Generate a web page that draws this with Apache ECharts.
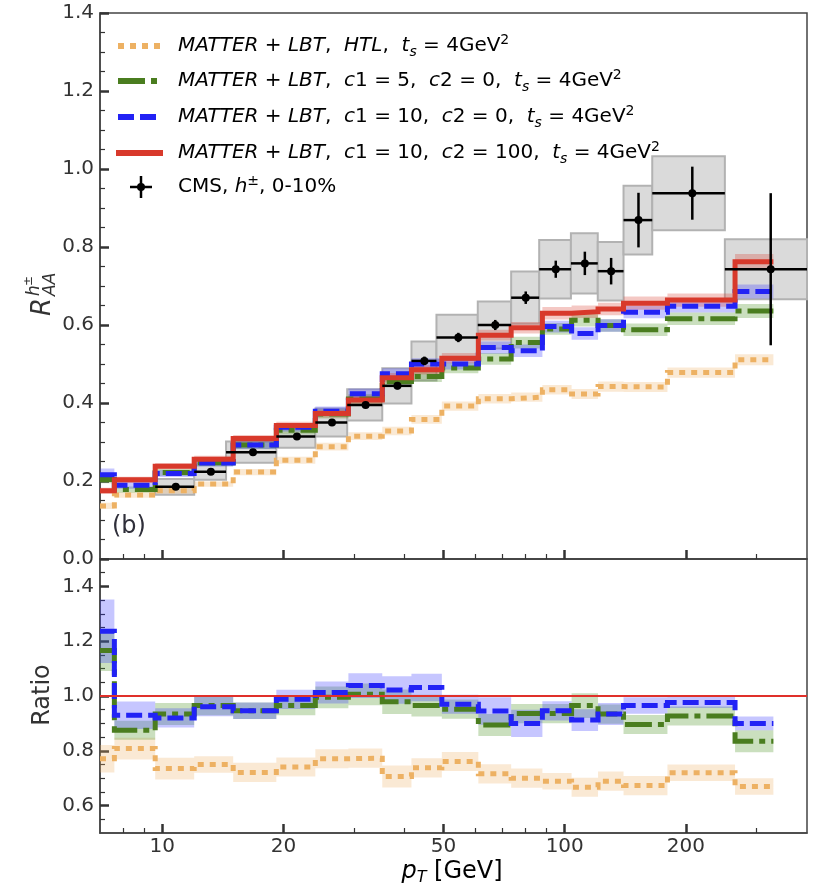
<!DOCTYPE html>
<html><head><meta charset="utf-8">
<script src="https://cdn.jsdelivr.net/npm/echarts@6/dist/echarts.min.js"></script>
<style>html,body{margin:0;padding:0;background:#fff}#c{width:820px;height:890px}</style>
</head><body><div id="c"></div>
<script>
// ---------- data ----------
const modelEdges = [7, 7.6, 9.6, 12, 15, 19.2, 24, 29, 35.2, 41.6, 49.5, 61, 73.6, 88, 104, 121, 140, 180, 265, 330];

const raaRed    = [0.175, 0.203, 0.238, 0.256, 0.309, 0.342, 0.373, 0.408, 0.465, 0.485, 0.515, 0.574, 0.593, 0.630, 0.634, 0.641, 0.656, 0.664, 0.762];
const raaRedErr = [0.008, 0.008, 0.008, 0.009, 0.009, 0.010, 0.010, 0.011, 0.012, 0.012, 0.013, 0.014, 0.015, 0.016, 0.016, 0.016, 0.017, 0.017, 0.020];
const raaBlue    = [0.216, 0.189, 0.219, 0.246, 0.292, 0.338, 0.379, 0.424, 0.475, 0.500, 0.500, 0.542, 0.534, 0.596, 0.578, 0.599, 0.633, 0.648, 0.686];
const raaBlueErr = [0.016, 0.009, 0.009, 0.009, 0.010, 0.011, 0.012, 0.013, 0.014, 0.015, 0.014, 0.016, 0.016, 0.015, 0.016, 0.016, 0.016, 0.016, 0.018];
const raaGreen    = [0.204, 0.178, 0.222, 0.247, 0.292, 0.330, 0.372, 0.410, 0.455, 0.468, 0.490, 0.513, 0.555, 0.590, 0.612, 0.599, 0.588, 0.616, 0.636];
const raaGreenErr = [0.010, 0.008, 0.009, 0.009, 0.010, 0.011, 0.012, 0.013, 0.014, 0.014, 0.014, 0.015, 0.015, 0.015, 0.016, 0.016, 0.016, 0.016, 0.018];
const raaOrange    = [0.136, 0.164, 0.175, 0.192, 0.223, 0.253, 0.288, 0.315, 0.328, 0.358, 0.392, 0.411, 0.415, 0.434, 0.423, 0.442, 0.441, 0.478, 0.511];
const raaOrangeErr = [0.008, 0.007, 0.007, 0.007, 0.008, 0.009, 0.010, 0.010, 0.011, 0.011, 0.012, 0.012, 0.012, 0.012, 0.013, 0.013, 0.013, 0.013, 0.014];

const ratioBlue    = [1.236, 0.930, 0.920, 0.961, 0.946, 0.988, 1.013, 1.038, 1.022, 1.031, 0.970, 0.945, 0.900, 0.946, 0.912, 0.934, 0.965, 0.976, 0.900];
const ratioBlueErr = [0.116, 0.050, 0.035, 0.035, 0.030, 0.035, 0.040, 0.045, 0.050, 0.050, 0.035, 0.050, 0.050, 0.035, 0.040, 0.040, 0.030, 0.020, 0.025];
const ratioGreen    = [1.166, 0.875, 0.934, 0.965, 0.946, 0.965, 0.995, 1.006, 0.979, 0.965, 0.952, 0.894, 0.936, 0.936, 0.965, 0.934, 0.896, 0.927, 0.835];
const ratioGreenErr = [0.075, 0.035, 0.040, 0.035, 0.030, 0.035, 0.040, 0.040, 0.045, 0.040, 0.035, 0.040, 0.035, 0.035, 0.045, 0.035, 0.035, 0.035, 0.040];
const ratioOrange    = [0.771, 0.808, 0.735, 0.750, 0.721, 0.741, 0.771, 0.773, 0.706, 0.738, 0.761, 0.716, 0.700, 0.689, 0.667, 0.689, 0.673, 0.720, 0.670];
const ratioOrangeErr = [0.050, 0.040, 0.040, 0.030, 0.035, 0.035, 0.035, 0.035, 0.040, 0.035, 0.035, 0.035, 0.035, 0.030, 0.035, 0.035, 0.035, 0.030, 0.030];

const cmsLo  = [9.6, 12, 14.4, 19.2, 24, 28.8, 35.2, 41.6, 48, 60.8, 73.6, 86.4, 103.6, 120.8, 140, 165, 250];
const cmsHi  = [12, 14.4, 19.2, 24, 28.8, 35.2, 41.6, 48, 60.8, 73.6, 86.4, 103.6, 120.8, 140, 165, 250, 400];
const cmsPt  = [10.8, 13.2, 16.8, 21.6, 26.4, 32, 38.4, 44.8, 54.4, 67.2, 80, 95, 112.2, 130.4, 152.5, 207.5, 325];
const cmsRaa = [0.185, 0.224, 0.274, 0.314, 0.350, 0.395, 0.444, 0.508, 0.568, 0.600, 0.670, 0.743, 0.758, 0.738, 0.869, 0.938, 0.743];
const cmsStat= [0.004, 0.005, 0.005, 0.006, 0.007, 0.008, 0.009, 0.011, 0.012, 0.013, 0.016, 0.022, 0.030, 0.034, 0.070, 0.068, 0.195];
const cmsSys = [0.020, 0.021, 0.027, 0.029, 0.036, 0.040, 0.045, 0.050, 0.058, 0.060, 0.067, 0.075, 0.077, 0.075, 0.088, 0.095, 0.077];

const xMajorTicks = [10, 20, 50, 100, 200];
const xMinorTicks = [8, 9, 30, 40, 60, 70, 80, 90, 300];
const ratioMajorTicks = [0.6, 0.8, 1.0, 1.2, 1.4];
const ratioMinorTicks = [0.55, 0.65, 0.7, 0.75, 0.85, 0.9, 0.95, 1.05, 1.1, 1.15, 1.25, 1.3, 1.35, 1.45];

// ---------- styles ----------
const C_OR = '#EDB163', C_GR = '#4A7D1F', C_BL = '#2222F5', C_RD = '#D8392B';
const B_OR = 'rgba(237,177,99,0.28)', B_GR = 'rgba(80,150,40,0.30)', B_BL = 'rgba(50,50,255,0.28)', B_RD = 'rgba(216,57,43,0.28)';
const D_OR = [6, 6], D_GR = [27, 6, 6, 6], D_BL = [16, 6];
const TXT = '#333';
const FF = 'DejaVu Sans';
const L = Math.log10;
const XMIN = L(7), XMAX = L(400);

function stepData(vals) {
  const d = vals.map((v, i) => [L(modelEdges[i]), v]);
  d.push([L(modelEdges[modelEdges.length - 1]), vals[vals.length - 1]]);
  return d;
}
function band(vals, errs, fill, xi, yi) {
  return {
    type: 'custom', xAxisIndex: xi, yAxisIndex: yi, z: 2, silent: true, animation: false,
    data: [[L(modelEdges[0]), vals[0]]],
    renderItem: (params, api) => {
      const up = [], lo = [];
      vals.forEach((v, i) => {
        const a = L(modelEdges[i]), b = L(modelEdges[i + 1]);
        up.push(api.coord([a, v + errs[i]]), api.coord([b, v + errs[i]]));
        lo.push(api.coord([a, v - errs[i]]), api.coord([b, v - errs[i]]));
      });
      return { type: 'polygon', shape: { points: up.concat(lo.reverse()) }, style: { fill: fill } };
    }
  };
}
function stepLine(vals, color, dash, xi, yi, z) {
  return {
    type: 'line', xAxisIndex: xi, yAxisIndex: yi, step: 'end', data: stepData(vals),
    symbol: 'none', showSymbol: false, silent: true, animation: false, z: z,
    lineStyle: { color: color, width: 5, type: dash || 'solid', cap: 'butt', join: 'miter' }
  };
}

function xAxes(gi, showLabels) {
  return [{
    type: 'value', gridIndex: gi, position: 'bottom', min: XMIN, max: XMAX,
    axisLine: { show: true, lineStyle: { color: '#444', width: 1.5 } },
    axisTick: { show: true, inside: true, length: 9, customValues: xMajorTicks.map(L), lineStyle: { color: '#333', width: 2.5 } },
    axisLabel: { show: showLabels, customValues: xMajorTicks.map(L), margin: 4,
      formatter: v => String(Math.round(Math.pow(10, v))), color: TXT, fontFamily: FF, fontSize: 20 },
    splitLine: { show: false }
  }, {
    type: 'value', gridIndex: gi, position: 'bottom', min: XMIN, max: XMAX,
    axisLine: { show: false },
    axisTick: { show: true, inside: true, length: 5, customValues: xMinorTicks.map(L), lineStyle: { color: '#333', width: 1.2 } },
    axisLabel: { show: false }, splitLine: { show: false }
  }];
}

const legendRich = {
  i: { fontFamily: FF, fontSize: 20, fontStyle: 'italic', color: TXT, lineHeight: 26 },
  n: { fontFamily: FF, fontSize: 20, color: TXT, lineHeight: 26 },
  sub: { fontFamily: FF, fontSize: 14, fontStyle: 'italic', color: TXT, lineHeight: 12, verticalAlign: 'bottom' },
  sup: { fontFamily: FF, fontSize: 14, color: TXT, lineHeight: 16, verticalAlign: 'top' }
};
const legendRows = [
  { y: 46, text: '{i|MATTER}{n| + }{i|LBT}{n|,  }{i|HTL}{n|,  }{i|t}{sub|s}{n| = 4GeV}{sup|2}' },
  { y: 81, text: '{i|MATTER}{n| + }{i|LBT}{n|,  }{i|c}{n|1 = 5,  }{i|c}{n|2 = 0,  }{i|t}{sub|s}{n| = 4GeV}{sup|2}' },
  { y: 117, text: '{i|MATTER}{n| + }{i|LBT}{n|,  }{i|c}{n|1 = 10,  }{i|c}{n|2 = 0,  }{i|t}{sub|s}{n| = 4GeV}{sup|2}' },
  { y: 153, text: '{i|MATTER}{n| + }{i|LBT}{n|,  }{i|c}{n|1 = 10,  }{i|c}{n|2 = 100,  }{i|t}{sub|s}{n| = 4GeV}{sup|2}' },
  { y: 187, text: '{n|CMS, }{i|h}{sup|±}{n|, 0-10%}' }
];
const graphics = [];
legendRows.forEach(r => graphics.push({ type: 'text', x: 178, y: r.y, z: 100,
  style: { text: r.text, rich: legendRich, verticalAlign: 'middle', align: 'left' } }));
graphics.push(
  { type: 'line', z: 100, shape: { x1: 118, y1: 46, x2: 160, y2: 46 }, style: { stroke: C_OR, lineWidth: 6, lineDash: D_OR } },
  { type: 'line', z: 100, shape: { x1: 118, y1: 81, x2: 158, y2: 81 }, style: { stroke: C_GR, lineWidth: 6, lineDash: D_GR } },
  { type: 'line', z: 100, shape: { x1: 118, y1: 117, x2: 158, y2: 117 }, style: { stroke: C_BL, lineWidth: 6, lineDash: D_BL } },
  { type: 'line', z: 100, shape: { x1: 116, y1: 153, x2: 163, y2: 153 }, style: { stroke: C_RD, lineWidth: 6 } },
  { type: 'line', z: 100, shape: { x1: 130, y1: 187, x2: 152, y2: 187 }, style: { stroke: '#000', lineWidth: 2.5 } },
  { type: 'line', z: 100, shape: { x1: 141, y1: 176, x2: 141, y2: 198 }, style: { stroke: '#000', lineWidth: 2.5 } },
  { type: 'circle', z: 100, shape: { cx: 141, cy: 187, r: 4 }, style: { fill: '#000' } },
  // y axis title (top)
  { type: 'group', x: 56, y: 316, rotation: Math.PI / 2, z: 100, children: [
    { type: 'text', x: 0, y: 0, style: { text: 'R', fontFamily: FF, fontStyle: 'italic', fontSize: 26, fill: TXT, align: 'left', verticalAlign: 'bottom' } },
    { type: 'text', x: 20, y: 3, style: { text: 'AA', fontFamily: FF, fontStyle: 'italic', fontSize: 17, fill: TXT, align: 'left', verticalAlign: 'bottom' } },
    { type: 'text', x: 20, y: -13, style: { text: 'h', fontFamily: FF, fontStyle: 'italic', fontSize: 17, fill: TXT, align: 'left', verticalAlign: 'bottom' } },
    { type: 'text', x: 30, y: -21, style: { text: '±', fontFamily: FF, fontSize: 12, fill: TXT, align: 'left', verticalAlign: 'bottom' } }
  ] },
  // ratio axis title
  { type: 'text', x: 43, y: 695, rotation: Math.PI / 2, z: 100,
    style: { text: 'Ratio', fontFamily: FF, fontSize: 24, fill: TXT, align: 'center', verticalAlign: 'middle' } },
  // x axis title
  { type: 'text', x: 452, y: 872, z: 100, style: { align: 'center', verticalAlign: 'middle',
    text: '{i|p}{sub|T}{n| [GeV]}',
    rich: { i: { fontFamily: FF, fontSize: 24, fontStyle: 'italic', color: TXT, lineHeight: 28 },
            n: { fontFamily: FF, fontSize: 24, color: TXT, lineHeight: 28 },
            sub: { fontFamily: FF, fontSize: 16, fontStyle: 'italic', color: TXT, lineHeight: 16, verticalAlign: 'bottom' } } } },
  // panel label
  { type: 'text', x: 112, y: 527, z: 100, style: { text: '(b)', fontFamily: FF, fontSize: 24, fill: '#2f2f3a', align: 'left', verticalAlign: 'middle' } }
);

const option = {
  animation: false,
  backgroundColor: '#fff',
  grid: [
    { left: 100, top: 13, width: 707, height: 546, show: true, borderColor: '#444', borderWidth: 1.5, backgroundColor: 'transparent' },
    { left: 100, top: 559, width: 707, height: 274, show: true, borderColor: '#444', borderWidth: 1.5, backgroundColor: 'transparent' }
  ],
  xAxis: xAxes(0, false).concat(xAxes(1, true)),
  yAxis: [
    { type: 'value', gridIndex: 0, min: 0, max: 1.4, interval: 0.2, position: 'left',
      axisLine: { show: true, lineStyle: { color: '#444', width: 1.5 } },
      axisTick: { show: true, inside: true, length: 9, lineStyle: { color: '#333', width: 2.5 } },
      minorTick: { show: true, splitNumber: 4, length: 5, lineStyle: { color: '#333', width: 1.2 } },
      axisLabel: { formatter: v => v.toFixed(1), color: TXT, fontFamily: FF, fontSize: 20, margin: 6 },
      splitLine: { show: false } },
    { type: 'value', gridIndex: 1, min: 0.5, max: 1.5, position: 'left',
      axisLine: { show: true, lineStyle: { color: '#444', width: 1.5 } },
      axisTick: { show: true, inside: true, length: 9, customValues: ratioMajorTicks, lineStyle: { color: '#333', width: 2.5 } },
      axisLabel: { customValues: ratioMajorTicks, formatter: v => v.toFixed(1), color: TXT, fontFamily: FF, fontSize: 20, margin: 6 },
      splitLine: { show: false } },
    { type: 'value', gridIndex: 1, min: 0.5, max: 1.5, position: 'left',
      axisLine: { show: false },
      axisTick: { show: true, inside: true, length: 5, customValues: ratioMinorTicks, lineStyle: { color: '#333', width: 1.2 } },
      axisLabel: { show: false }, splitLine: { show: false } }
  ],
  graphic: graphics,
  series: [
    // CMS systematic boxes
    { type: 'custom', xAxisIndex: 0, yAxisIndex: 0, z: 1, silent: true, animation: false,
      data: cmsRaa.map((v, i) => [L(cmsLo[i]), L(cmsHi[i]), v - cmsSys[i], v + cmsSys[i]]),
      renderItem: (params, api) => {
        const p0 = api.coord([api.value(0), api.value(3)]);
        const p1 = api.coord([api.value(1), api.value(2)]);
        return { type: 'rect', shape: { x: p0[0], y: p0[1], width: p1[0] - p0[0], height: p1[1] - p0[1] },
          style: { fill: '#DADADA', stroke: '#B2B2B2', lineWidth: 2 } };
      } },
    band(raaOrange, raaOrangeErr, B_OR, 0, 0),
    band(raaGreen, raaGreenErr, B_GR, 0, 0),
    band(raaBlue, raaBlueErr, B_BL, 0, 0),
    band(raaRed, raaRedErr, B_RD, 0, 0),
    stepLine(raaOrange, C_OR, D_OR, 0, 0, 3),
    stepLine(raaGreen, C_GR, D_GR, 0, 0, 3),
    stepLine(raaBlue, C_BL, D_BL, 0, 0, 3),
    stepLine(raaRed, C_RD, 'solid', 0, 0, 3),
    // CMS points with stat errors
    { type: 'custom', xAxisIndex: 0, yAxisIndex: 0, z: 5, silent: true, animation: false,
      data: cmsRaa.map((v, i) => [L(cmsPt[i]), v, L(cmsLo[i]), L(cmsHi[i]), cmsStat[i]]),
      renderItem: (params, api) => {
        const c = api.coord([api.value(0), api.value(1)]);
        const xl = api.coord([api.value(2), api.value(1)])[0];
        const xr = api.coord([api.value(3), api.value(1)])[0];
        const yt = api.coord([api.value(0), api.value(1) + api.value(4)])[1];
        const yb = api.coord([api.value(0), api.value(1) - api.value(4)])[1];
        return { type: 'group', children: [
          { type: 'line', shape: { x1: xl, y1: c[1], x2: xr, y2: c[1] }, style: { stroke: '#000', lineWidth: 2.5 } },
          { type: 'line', shape: { x1: c[0], y1: yt, x2: c[0], y2: yb }, style: { stroke: '#000', lineWidth: 2.5 } },
          { type: 'circle', shape: { cx: c[0], cy: c[1], r: 4 }, style: { fill: '#000' } }
        ] };
      } },
    // ratio panel
    band(ratioOrange, ratioOrangeErr, B_OR, 2, 1),
    band(ratioGreen, ratioGreenErr, B_GR, 2, 1),
    band(ratioBlue, ratioBlueErr, B_BL, 2, 1),
    stepLine(ratioOrange, C_OR, D_OR, 2, 1, 3),
    stepLine(ratioGreen, C_GR, D_GR, 2, 1, 3),
    Object.assign(stepLine(ratioBlue, C_BL, D_BL, 2, 1, 3), {
      markLine: { silent: true, symbol: 'none', label: { show: false }, animation: false,
        lineStyle: { color: '#E0302A', width: 2, type: 'solid' }, data: [{ yAxis: 1 }] } })
  ]
};
const chart = echarts.init(document.getElementById('c'), null, { renderer: 'canvas' });
chart.setOption(option);
</script></body></html>
